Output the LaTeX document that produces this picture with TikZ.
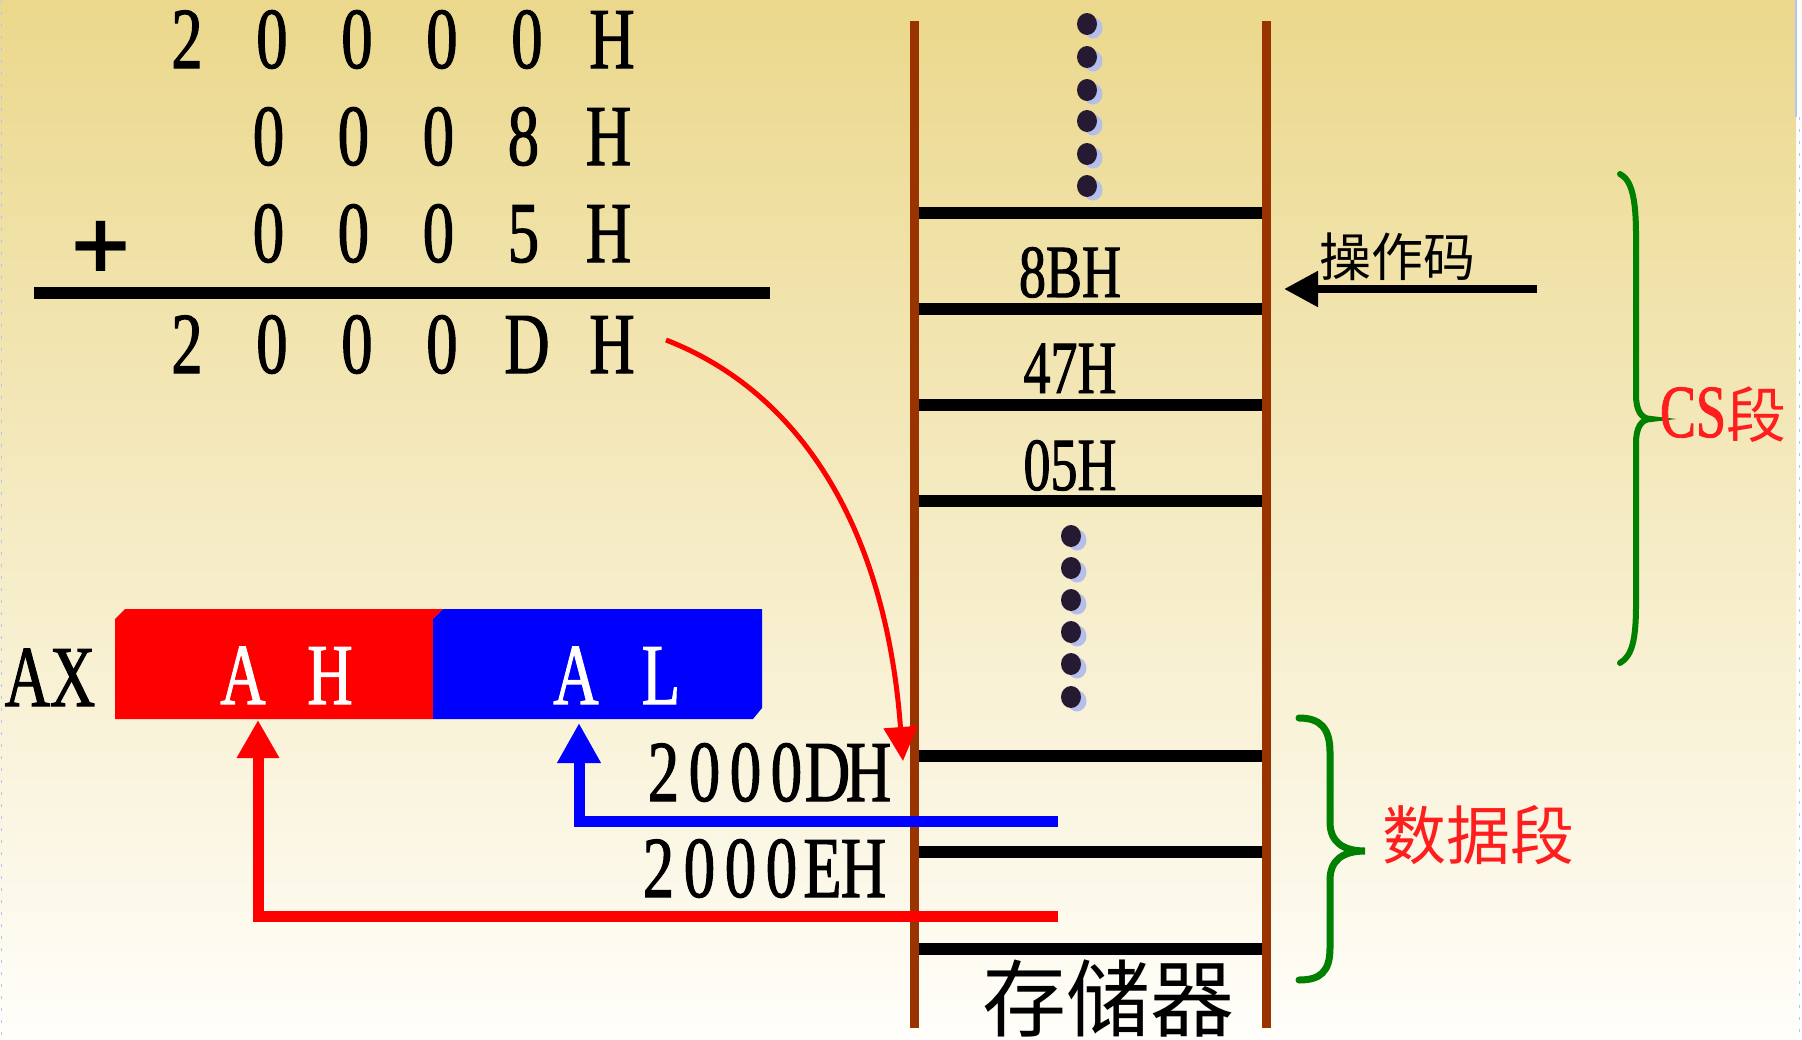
\documentclass[tikz,border=0pt]{standalone}
\usepackage{fontspec}
\setmainfont{Liberation Serif}
\newfontfamily\cond[FakeStretch=0.72,FakeBold=1.2]{Liberation Serif}
\newfontfamily\cjk{Noto Sans CJK SC}
\newfontfamily\dvs{DejaVu Sans}
\usetikzlibrary{arrows.meta}
\definecolor{bgtop}{RGB}{235,216,140}
\definecolor{bgbot}{RGB}{255,254,250}
\definecolor{railc}{RGB}{153,51,0}
\definecolor{dotc}{RGB}{38,26,51}
\definecolor{dotsh}{RGB}{182,191,234}
\definecolor{bracec}{RGB}{0,128,0}
\definecolor{tred}{RGB}{255,30,30}
\definecolor{edgeblue}{RGB}{180,195,240}
\newcommand\cc[2]{\makebox[#1pt]{#2}}
\begin{document}
\begin{tikzpicture}[x=1pt,y=-1pt,
  big/.style={font=\cond\fontsize{87}{87}\selectfont, inner sep=0pt, anchor=base},
  cellt/.style={font=\cond\fontsize{75}{75}\selectfont, inner sep=0pt, anchor=base},
  mline/.style={line width=12pt},
  railst/.style={railc, line width=9pt},
  bracest/.style={bracec, line width=6pt, line cap=round},
  cjkt/.style={inner sep=0pt, anchor=base}]
\useasboundingbox (0,0) rectangle (1802,1039);
% background
\fill[white] (0,0) rectangle (1802,1039);
\shade[top color=bgtop, bottom color=bgbot] (0,0) rectangle (1796,1039);
\draw[edgeblue, line width=1.5pt] (1796,0) -- (1796,117);
\draw[edgeblue, line width=1pt, dash pattern=on 3pt off 9pt] (1799,117) -- (1799,1039);
\draw[edgeblue, line width=1pt, dash pattern=on 3pt off 9pt] (1,0) -- (1,1039);

% arithmetic
\node[big] (r1) at (399.5,68) {\cc{85}{2}\cc{85}{0}\cc{85}{0}\cc{85}{0}\cc{85}{0}\cc{85}{H}};
\node[big] (r2) at (438.5,165) {\cc{85}{0}\cc{85}{0}\cc{85}{0}\cc{85}{8}\cc{85}{H}};
\node[big] (r3) at (438.5,262) {\cc{85}{0}\cc{85}{0}\cc{85}{0}\cc{85}{5}\cc{85}{H}};
\node[inner sep=0pt, font=\dvs\bfseries\fontsize{80}{80}\selectfont] (plus) at (101,246) {+};
\draw[line width=12pt] (34,293) -- (770,293);
\node[big] (r4) at (399.5,373) {\cc{85}{2}\cc{85}{0}\cc{85}{0}\cc{85}{0}\cc{85}{D}\cc{85}{H}};

% memory rails and cells
\draw[railst] (914,21) -- (914,1028);
\draw[railst] (1266,21) -- (1266,1028);
\foreach \yy in {213,309,405,501,756,852,949}
  \draw[mline] (918.5,\yy) -- (1261.5,\yy);
\node[cellt] (c1) at (1070,297) {8BH};
\node[cellt] (c2) at (1070,393) {47H};
\node[cellt] (c3) at (1070,490) {05H};

% dots
\foreach \yy in {24,57,90,121,154,186} {
  \fill[dotsh] (1093,\yy+4) ellipse (9.5 and 10.5);
  \fill[dotc] (1087,\yy) ellipse (10 and 11);
}
\foreach \yy in {536,568,600,632,664,697} {
  \fill[dotsh] (1077,\yy+4) ellipse (9.5 and 10.5);
  \fill[dotc] (1071,\yy) ellipse (10 and 11);
}

% opcode arrow
\coordinate (opA) at (1537,289);
\coordinate (opB) at (1284,289);
\draw[line width=8pt, -{Triangle[length=34pt,width=34pt]}] (opA) -- (opB);
\node[inner sep=0pt, font=\cjk\fontsize{52}{52}\selectfont] (op) at (1397,257) {操作码};

% CS brace
\draw[bracest] (1620,174) .. controls (1632,180) and (1636,200) .. (1636,235)
  -- (1636,395) .. controls (1636,410) and (1641,419) .. (1651,419)
  .. controls (1641,419) and (1636,428) .. (1636,443)
  -- (1636,605) .. controls (1636,640) and (1632,656) .. (1620,663);
\node[cjkt, text=tred] (cs) at (1723,437) {{\cond\fontsize{75}{75}\selectfont CS}{\cjk\fontsize{60}{60}\selectfont 段}};

% data brace
\draw[bracest, line width=7pt] (1299,718) .. controls (1320,718) and (1330,728) .. (1330,752)
  -- (1330,822) .. controls (1330,842) and (1343,851) .. (1365,851)
  .. controls (1343,851) and (1330,860) .. (1330,880)
  -- (1330,948) .. controls (1330,972) and (1320,980) .. (1299,980);
\node[inner sep=0pt, text=tred, font=\cjk\fontsize{64}{64}\selectfont] (ds) at (1478,835) {数据段};

% memory label
\node[cjkt, font=\cjk\fontsize{84}{84}\selectfont] (mem) at (1108,1030) {存储器};

% AX register
\node[big] (ax) at (50,706) {AX};
\fill[red] (115,619) -- (125,609) -- (443,609) -- (433,619) -- (433,719) -- (115,719) -- cycle;
\fill[blue] (433,619) -- (443,609) -- (762,609) -- (762,708) -- (753,719) -- (433,719) -- cycle;
\node[big, text=white] (ah) at (286.5,704) {\cc{87}{A}\cc{87}{H}};
\node[big, text=white] (al) at (618.5,704) {\cc{85}{A}\cc{85}{L}};

% addresses
\node[big] (a1) at (766,801) {\cc{41}{2}\cc{41}{0}\cc{41}{0}\cc{41}{0}\cc{41}{D}\cc{41}{H}};
\node[big] (a2) at (761,897) {\cc{41}{2}\cc{41}{0}\cc{41}{0}\cc{41}{0}\cc{41}{E}\cc{41}{H}};

% data arrows
\coordinate (bS) at (1058,821);
\coordinate (bT) at (579,723);
\coordinate (rS) at (1058,916.5);
\coordinate (rT) at (258,720);
\draw[blue, line width=11pt, line join=miter, -{Triangle[length=40pt,width=41pt]}] (bS) -| (bT);
\draw[red, line width=11pt, line join=miter, -{Triangle[length=38pt,width=40pt]}] (rS) -| (rT);

% address calculation arrow
\coordinate (cS) at (666,340);
\coordinate (cT) at (903,761);
\draw[red, line width=5pt, -{Triangle[length=34pt,width=33pt]}] (cS) .. controls (795,390) and (885,520) .. (cT);
\end{tikzpicture}
\end{document}
